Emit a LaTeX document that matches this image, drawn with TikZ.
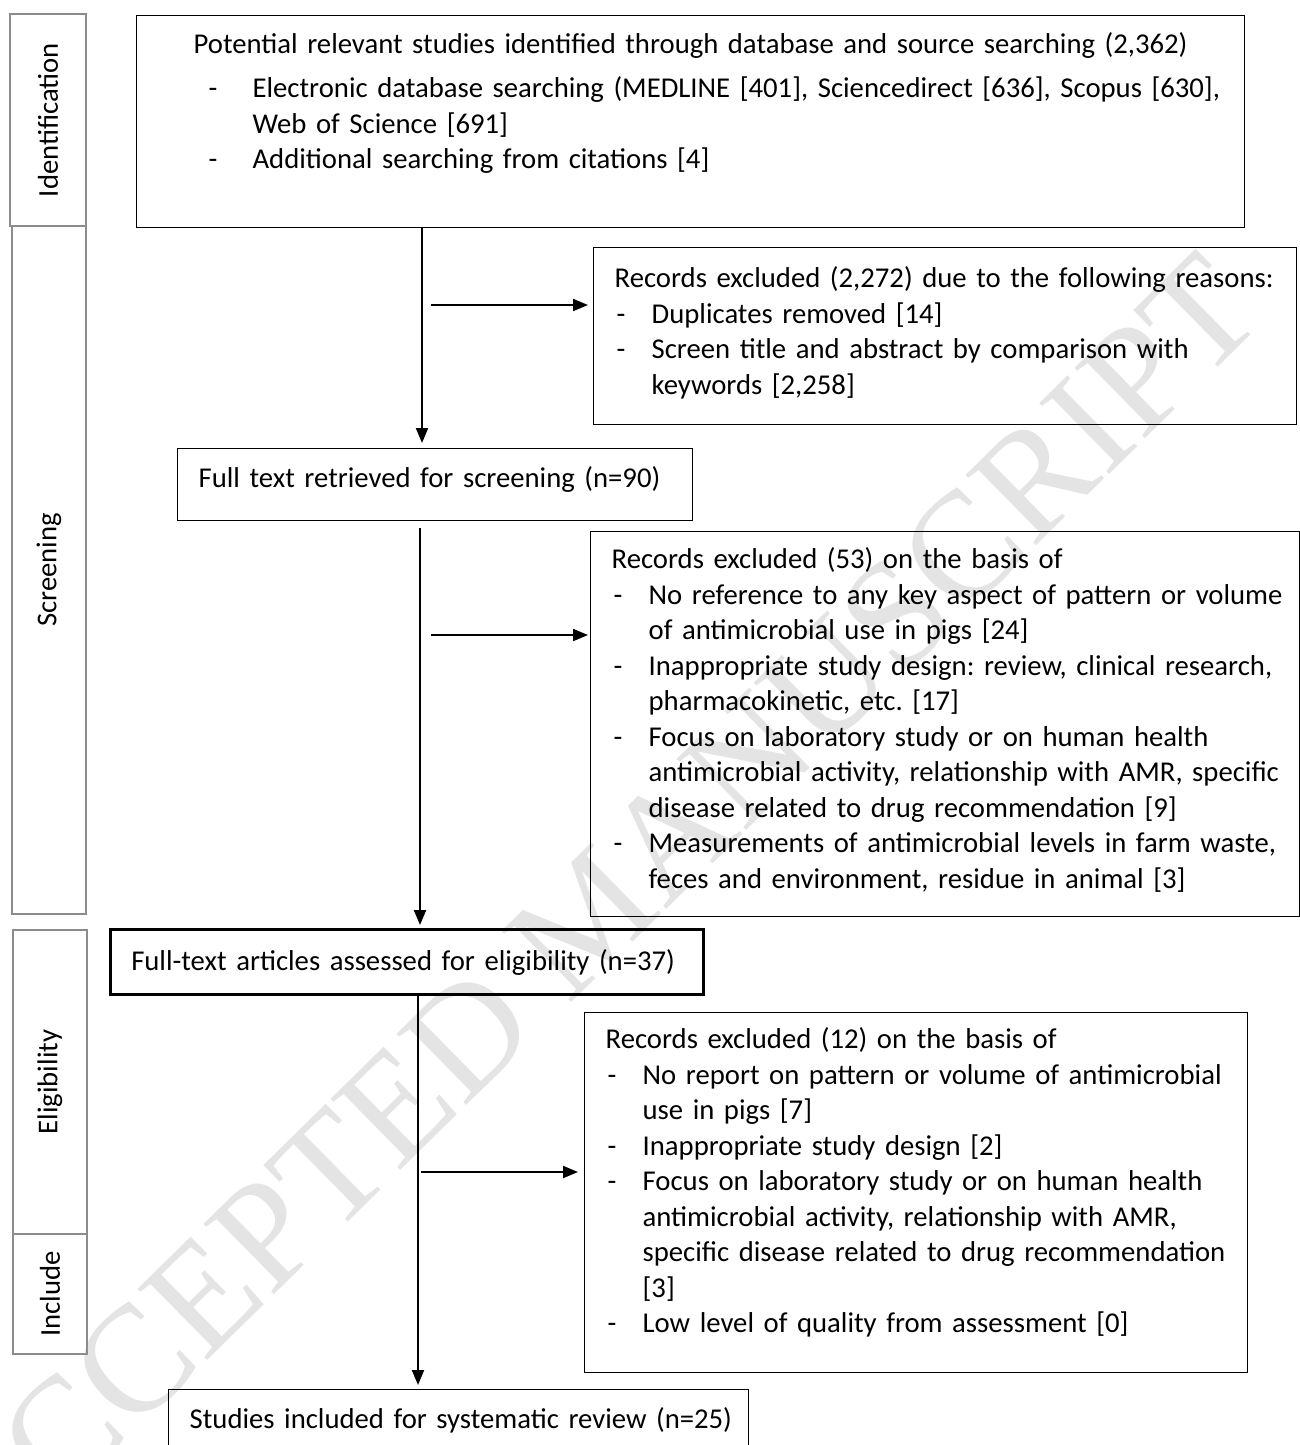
\documentclass[tikz,border=0pt]{standalone}
\usepackage{fontspec}
\setmainfont{Carlito}
\newfontfamily\markfont{Liberation Serif}
\usetikzlibrary{arrows.meta}
\definecolor{cStage}{RGB}{140,140,140}
\definecolor{cMark}{RGB}{228,228,228}
\frenchspacing
% indents inside the boxes: heading, dash, item text
\newlength{\padA}\setlength{\padA}{21pt}
\newlength{\padB}\setlength{\padB}{23pt}
\newlength{\padC}\setlength{\padC}{58pt}
\newcommand{\hd}{\hspace*{\padA}}
\newcommand{\itm}{\hspace*{\padB}\makebox[\dimexpr\padC-\padB\relax][l]{-}}
\newcommand{\cnt}{\hspace*{\padC}}

\begin{document}
\begin{tikzpicture}[x=1pt,y=-1pt,
  box/.style={draw, line width=1.3pt, anchor=north west, inner sep=0pt, align=left,
    font=\fontsize{28.7}{35.5}\selectfont},
  stage/.style={draw=cStage, line width=2pt, rotate=90, inner sep=0pt,
    font=\fontsize{28.7}{32}\selectfont},
  flow/.style={line width=2pt, -{Triangle[length=15pt,width=12pt]}},
  wide/.style={execute at begin node={\setlength{\padA}{57pt}\setlength{\padB}{72pt}\setlength{\padC}{116pt}}}]
 \useasboundingbox (0,0) rectangle (1300,1445);
 % ---- watermark ----
 \node[font=\markfont\fontsize{152}{152}\selectfont, text=cMark, rotate=44.5] (mark) at (590,915) {ACCEPTED MANUSCRIPT};
 % ---- stages ----
 \node[stage, minimum width=212pt, minimum height=76pt] (sIdent) at (48,120) {Identification};
 \node[stage, minimum width=688pt, minimum height=74pt] (sScreen) at (49,570) {Screening};
 \node[stage, minimum width=304pt, minimum height=74pt] (sElig) at (50,1082) {Eligibility};
 \node[stage, minimum width=120pt, minimum height=74pt] (sIncl) at (50,1294) {Include};
 % ---- main column ----
 \node[box, wide, text width=1108pt, text height=38pt, text depth=174pt] (found) at (136,15)
   {\hd Potential relevant studies identified through database and source searching (2,362)\\[8.5pt]
    \itm Electronic database searching (MEDLINE [401], Sciencedirect [636], Scopus [630],\\
    \cnt Web of Science [691]\\
    \itm Additional searching from citations [4]};
 \node[box, text width=515pt, text height=39pt, text depth=33pt] (full) at (177,448)
   {\hd Full text retrieved for screening (n=90)};
 \node[box, line width=2.5pt, text width=593pt, text height=41pt, text depth=24pt] (assess) at (109,928)
   {\hd Full-text articles assessed for eligibility (n=37)};
 \node[box, text width=580pt, text height=39pt, text depth=60pt] (incl) at (168,1389)
   {\hd Studies included for systematic review (n=25)};
 % ---- exclusions ----
 \node[box, text width=703pt, text height=40pt, text depth=137pt] (dup) at (593,247)
   {\hd Records excluded (2,272) due to the following reasons:\\
    \itm Duplicates removed [14]\\
    \itm Screen title and abstract by comparison with\\
    \cnt keywords [2,258]};
 \node[box, text width=709pt, text height=37pt, text depth=348pt] (scr) at (590,531)
   {\hd Records excluded (53) on the basis of\\
    \itm No reference to any key aspect of pattern or volume\\
    \cnt of antimicrobial use in pigs [24]\\
    \itm Inappropriate study design: review, clinical research,\\
    \cnt pharmacokinetic, etc. [17]\\
    \itm Focus on laboratory study or on human health\\
    \cnt antimicrobial activity, relationship with AMR, specific\\
    \cnt disease related to drug recommendation [9]\\
    \itm Measurements of antimicrobial levels in farm waste,\\
    \cnt feces and environment, residue in animal [3]};
 \node[box, text width=663pt, text height=36pt, text depth=324pt] (qual) at (584,1012)
   {\hd Records excluded (12) on the basis of\\
    \itm No report on pattern or volume of antimicrobial\\
    \cnt use in pigs [7]\\
    \itm Inappropriate study design [2]\\
    \itm Focus on laboratory study or on human health\\
    \cnt antimicrobial activity, relationship with AMR,\\
    \cnt specific disease related to drug recommendation\\
    \cnt [3]\\
    \itm Low level of quality from assessment [0]};
 % ---- arrows ----
 \coordinate (m1) at (422,0);
 \coordinate (m2) at (420,0);
 \coordinate (m3) at (418,0);
 \draw[flow, shorten >=5pt] (found.south -| m1) -- (full.north -| m1);
 \draw[flow, shorten <=7pt, shorten >=3pt] (full.south -| m2) -- (assess.north -| m2);
 \draw[flow, shorten >=4pt] (assess.south -| m3) -- (incl.north -| m3);
 \coordinate (b1) at (431,305);
 \coordinate (b2) at (431,635);
 \coordinate (b3) at (421,1172);
 \draw[flow, shorten >=5pt] (b1) -- (b1 -| dup.west);
 \draw[flow, shorten >=2pt] (b2) -- (b2 -| scr.west);
 \draw[flow, shorten >=6pt] (b3) -- (b3 -| qual.west);
\end{tikzpicture}
\end{document}
